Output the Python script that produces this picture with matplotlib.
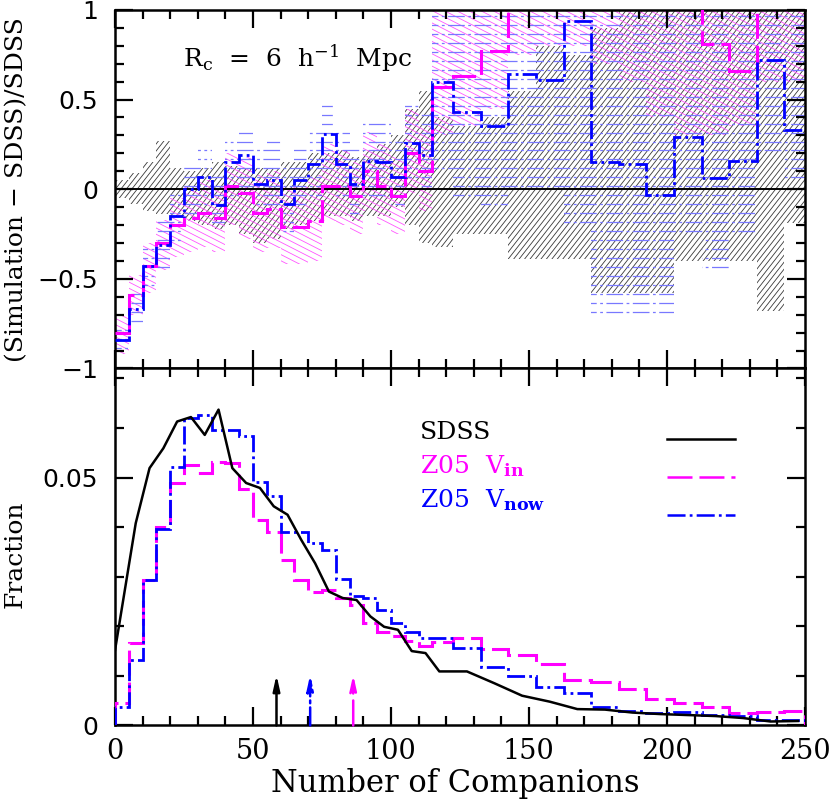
import numpy as np
import matplotlib
matplotlib.use("Agg")
import matplotlib.pyplot as plt
from matplotlib.patches import Polygon
from matplotlib.collections import LineCollection

plt.rcParams["font.family"] = ["DejaVu Serif"]
plt.rcParams["mathtext.fontset"] = "dejavuserif"
plt.rcParams["lines.scale_dashes"] = False

# bin edges (5 wide up to 115, then 10 wide)
edges = [0, 5, 10, 15, 20, 25, 30, 35, 40, 45, 50, 55, 60, 65, 70, 75, 80, 85, 90,
         95, 100, 105, 110, 115, 122.5, 132.5, 142.5, 152.5, 162.5, 172.5, 182.5,
         192.5, 202.5, 212.5, 222.5, 232.5, 242.5, 250]

# top panel: (Simulation - SDSS)/SDSS
vin_ratio = [-0.80, -0.59, -0.43, -0.30, -0.20, -0.16, -0.13, -0.16, 0.02, -0.02,
             -0.13, -0.11, -0.21, -0.21, -0.18, 0.02, 0.02, -0.04, 0.10, 0.02,
             -0.04, 0.20, 0.10, 0.57, 0.63, 0.77, 1.3, 1.3, 1.3, 1.3, 1.3,
             1.3, 1.3, 0.81, 0.66, 1.3, 1.3]
vnow_ratio = [-0.84, -0.67, -0.43, -0.31, -0.15, 0.00, 0.07, -0.09, 0.15, 0.19,
              0.03, 0.05, -0.08, 0.05, 0.14, 0.31, 0.14, 0.03, 0.16, 0.15,
              0.07, 0.26, 0.19, 0.60, 0.43, 0.35, 0.64, 0.61, 0.94, 0.15, 0.14,
              -0.03, 0.29, 0.06, 0.16, 0.72, 0.33]

# error bands (low, high) per bin
sdss_lo = [-0.05, -0.08, -0.12, -0.14, -0.15, -0.18, -0.20, -0.22, -0.20, -0.25,
           -0.30, -0.28, -0.22, -0.20, -0.18, -0.15, -0.15, -0.18, -0.15, -0.15,
           -0.10, -0.20, -0.30, -0.32, -0.25, -0.25, -0.39, -0.39, -0.39, -0.58,
           -0.58, -0.58, -0.40, -0.40, -0.40, -0.68, -0.19]
sdss_hi = [0.05, 0.09, 0.15, 0.27, 0.12, 0.10, 0.12, 0.15, 0.13, 0.12,
           0.12, 0.12, 0.15, 0.15, 0.20, 0.20, 0.22, 0.18, 0.22, 0.25,
           0.30, 0.45, 0.55, 0.40, 0.35, 0.40, 0.55, 0.80, 0.75, 0.90,
           1.1, 1.1, 1.1, 1.1, 1.1, 1.1, 1.1]
vin_lo = [-0.92, -0.70, -0.58, -0.45, -0.38, -0.35, -0.32, -0.35, -0.20, -0.28,
          -0.35, -0.33, -0.42, -0.42, -0.40, -0.18, -0.20, -0.25, -0.12, -0.20,
          -0.25, -0.02, -0.12, 0.30, 0.35, 0.45, 0.75, 0.80, 0.80, 0.70,
          0.60, 0.40, 0.30, 0.30, 0.35, 0.60, 0.60]
vin_hi = [-0.70, -0.48, -0.30, -0.17, -0.05, 0.02, 0.05, 0.02, 0.20, 0.18,
          0.08, 0.10, 0.02, 0.02, 0.08, 0.25, 0.22, 0.15, 0.32, 0.25,
          0.18, 0.45, 0.35, 1.1, 1.1, 1.1, 1.1, 1.1, 1.1, 1.1,
          1.1, 1.1, 1.1, 1.1, 1.1, 1.1, 1.1]
vnow_lo = [-0.92, -0.78, -0.55, -0.45, -0.30, -0.15, -0.10, -0.22, -0.05, -0.02,
           -0.15, -0.12, -0.25, -0.12, -0.05, 0.10, -0.05, -0.15, -0.05, -0.05,
           -0.12, 0.05, 0.00, 0.10, -0.05, -0.10, 0.00, 0.00, -0.20, -0.71,
           -0.71, -0.71, -0.25, -0.48, -0.25, 0.20, 0.05]
vnow_hi = [-0.75, -0.55, -0.30, -0.15, 0.00, 0.15, 0.25, 0.08, 0.30, 0.35,
           0.25, 0.27, 0.12, 0.25, 0.35, 0.50, 0.35, 0.25, 0.38, 0.37,
           0.30, 0.48, 0.42, 1.1, 1.1, 1.1, 1.1, 1.1, 1.1, 1.1,
           1.1, 1.1, 1.1, 1.1, 1.1, 1.1, 1.1]

# bottom panel: fractions
vin_frac = [0.0045, 0.0166, 0.0294, 0.0401, 0.0489, 0.0526, 0.0509, 0.0532, 0.0530, 0.0477,
            0.0415, 0.0391, 0.0334, 0.0293, 0.0270, 0.0273, 0.0257, 0.0243, 0.0206, 0.0189,
            0.0181, 0.0171, 0.0161, 0.0169, 0.0177, 0.0154, 0.0142, 0.0124, 0.0092, 0.0087,
            0.0074, 0.0053, 0.0046, 0.0037, 0.0026, 0.0027, 0.0029]
vnow_frac = [0.0038, 0.0132, 0.0294, 0.0396, 0.0522, 0.0620, 0.0627, 0.0596, 0.0595, 0.0583,
             0.0492, 0.0462, 0.0391, 0.0390, 0.0369, 0.0354, 0.0295, 0.0261, 0.0257, 0.0233,
             0.0206, 0.0189, 0.0176, 0.0176, 0.0156, 0.0117, 0.0100, 0.0078, 0.0066, 0.0038,
             0.0030, 0.0025, 0.0028, 0.0021, 0.0019, 0.0011, 0.0011]
sdss_x = [0, 7.5, 12.5, 17.5, 22.5, 27.5, 32.5, 37.5, 42.5, 47.5, 52.5, 57.5, 62.5,
          67.5, 72.5, 77.5, 82.5, 87.5, 92.5, 97.5, 102.5, 107.5, 112.5, 117.5, 127.5,
          137.5, 147.5, 157.5, 167.5, 177.5, 187.5, 197.5, 207.5, 217.5, 227.5, 237.5, 247.5]
sdss_frac = [0.0152, 0.0408, 0.0519, 0.0559, 0.0613, 0.0622, 0.0586, 0.0637, 0.0519, 0.0489,
             0.0479, 0.0442, 0.0425, 0.0374, 0.0327, 0.0270, 0.0257, 0.0253, 0.0220, 0.0199,
             0.0193, 0.0150, 0.0146, 0.0109, 0.0109, 0.0085, 0.0060, 0.0048, 0.0033, 0.0032,
             0.0026, 0.0023, 0.0021, 0.0019, 0.0015, 0.0008, 0.0009]

# medians marked with arrows
median_x = [58.5, 70.7, 86.3]
median_top = 0.0102

MAGENTA = "#ff00ff"
BLUE = "#0000ff"
DASH = (0, (18, 5))
DASHDOT = (0, (13, 3, 2, 3))


def band(ax, lo, hi, ylim):
    xs = np.repeat(edges, 2)[1:-1]
    lo = np.clip(np.repeat(lo, 2), *ylim)
    hi = np.clip(np.repeat(hi, 2), *ylim)
    verts = np.column_stack([np.r_[xs, xs[::-1]], np.r_[hi, lo[::-1]]])
    p = Polygon(verts, closed=True, fill=False, lw=0)
    ax.add_patch(p)
    return p


def hatch(ax, patch, angle, spacing, color, lw, ls="-", W=690.0, H=358.5):
    # straight lines in pixel space, drawn in axes fraction coordinates
    th = np.deg2rad(angle)
    d = np.array([np.cos(th), np.sin(th)])
    n = np.array([-d[1], d[0]])
    L = np.hypot(W, H)
    c = np.array([W / 2, H / 2])
    segs = []
    for k in np.arange(-L, L, spacing):
        p0 = c + k * n - L * d
        p1 = c + k * n + L * d
        segs.append([(p0[0] / W, p0[1] / H), (p1[0] / W, p1[1] / H)])
    lc = LineCollection(segs, colors=color, linewidths=lw, linestyles=ls,
                        transform=ax.transAxes, zorder=1)
    lc.set_clip_path(patch)
    ax.add_collection(lc)


fig = plt.figure(figsize=(8.3, 8.01), dpi=100)
ax1 = fig.add_axes([0.1386, 0.540, 0.8313, 0.4476])
ax2 = fig.add_axes([0.1386, 0.0943, 0.8313, 0.4457])

# ---- top panel
ylim1 = (-1, 1)
p_sdss = band(ax1, sdss_lo, sdss_hi, ylim1)
p_vin = band(ax1, vin_lo, vin_hi, ylim1)
p_vnow = band(ax1, vnow_lo, vnow_hi, ylim1)
hatch(ax1, p_sdss, 52, 4.3, "#383838", 0.6)
hatch(ax1, p_vin, -27, 5.5, "#ff55ff", 0.6)
hatch(ax1, p_vnow, 0, 8.97, "#7878ff", 0.9, ls=(0, (12, 2.5, 2, 2.5)))

ax1.axhline(0, color="black", lw=1.4, zorder=3)
ax1.stairs(vin_ratio, edges, baseline=None, color=MAGENTA, lw=2.2, ls=DASH, zorder=4)
ax1.stairs(vnow_ratio, edges, baseline=None, color=BLUE, lw=2.0, ls=DASHDOT, zorder=5)
ax1.set_ylim(*ylim1)
ax1.text(0.099, 0.866, r"R$_{\rm c}$  =  6  h$^{-1}$  Mpc", transform=ax1.transAxes,
         fontsize=18, va="center", ha="left")
ax1.set_yticks([-1, -0.5, 0, 0.5, 1])
ax1.set_yticklabels(["\u22121", "\u22120.5", "0", "0.5", "1"])
ax1.set_yticks(np.arange(-1, 1.01, 0.1), minor=True)
ax1.tick_params(labelbottom=False)
ax1.text(-0.143, 0.5, "(Simulation \u2212 SDSS)/SDSS", transform=ax1.transAxes,
         rotation=90, ha="center", va="center", fontsize=18)

# ---- bottom panel
ax2.stairs(vin_frac, edges, baseline=0, color=MAGENTA, lw=2.2, ls=DASH, zorder=4)
ax2.stairs(vnow_frac, edges, baseline=0, color=BLUE, lw=2.0, ls=DASHDOT, zorder=5)
ax2.plot(sdss_x, sdss_frac, color="black", lw=1.8, zorder=6)
for mx, col, ls in zip(median_x, ["black", BLUE, MAGENTA], ["-", DASHDOT, DASH]):
    ax2.annotate("", xy=(mx, median_top), xytext=(mx, 0),
                 arrowprops=dict(arrowstyle="-|>,head_length=0.9,head_width=0.2",
                                 color=col, lw=1.8, ls=ls, shrinkA=0, shrinkB=0))
ax2.set_ylim(0, 0.072)
ax2.set_yticks([0, 0.05])
ax2.set_yticklabels(["0", "0.05"])
ax2.set_yticks(np.arange(0, 0.0721, 0.01), minor=True)
ax2.text(-0.145, 0.48, "Fraction", transform=ax2.transAxes, rotation=90,
         ha="center", va="center", fontsize=18)
ax2.text(0.493, -0.163, "Number of Companions", transform=ax2.transAxes,
         ha="center", va="center", fontsize=22)

# legend
leg_labels = ["SDSS", r"Z05  V$_{\mathbf{in}}$", r"Z05  V$_{\mathbf{now}}$"]
leg_colors = ["black", MAGENTA, BLUE]
leg_styles = ["-", DASH, DASHDOT]
for i, (lab, col, ls) in enumerate(zip(leg_labels, leg_colors, leg_styles)):
    ax2.text(0.442, 0.822 - 0.095 * i, lab, color=col, fontsize=18,
             transform=ax2.transAxes, va="center", ha="left")
    ax2.plot([0.80, 0.899], [0.802 - 0.106 * i] * 2, color=col, ls=ls, lw=1.8,
             transform=ax2.transAxes)

for ax in (ax1, ax2):
    ax.set_xlim(0, 250)
    ax.set_xticks([0, 50, 100, 150, 200, 250])
    ax.set_xticks(np.arange(0, 251, 10), minor=True)
    ax.tick_params(which="both", direction="in", top=True, right=True, width=1.6)
    ax.tick_params(which="major", length=13)
    ax.tick_params(which="minor", length=6.5)
    ax.tick_params(axis="y", labelsize=18, pad=12)
    ax.tick_params(axis="x", labelsize=19.5, pad=9)
    for lab in ax.get_yticklabels():
        lab.set_family("DejaVu Sans")
    for s in ax.spines.values():
        s.set_linewidth(1.8)

fig.savefig("out.png", dpi=100)
